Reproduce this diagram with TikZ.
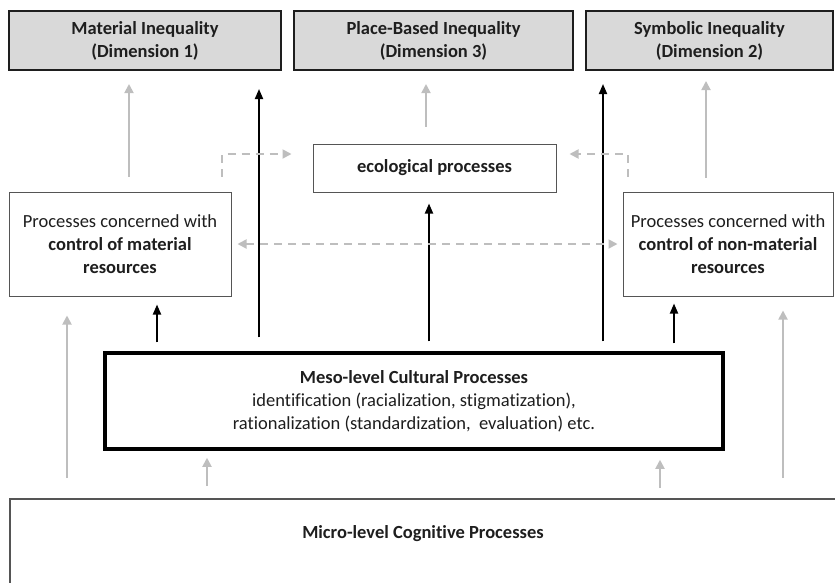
\documentclass[tikz,border=0pt]{standalone}
\usepackage{fontspec}
\setmainfont{Carlito}[Ligatures={NoCommon}]
\usetikzlibrary{arrows.meta,calc}
\definecolor{txt}{HTML}{1E1E1E}
\definecolor{lgray}{HTML}{BEBEBE}
\definecolor{boxfill}{HTML}{D9D9D9}
\definecolor{bord}{HTML}{555555}
\begin{document}
\begin{tikzpicture}[x=1pt,y=-1pt,
  every node/.style={text=txt,font=\fontsize{18.5}{23}\selectfont,align=center,inner sep=0pt},
  topbox/.style={draw=txt,line width=2pt,fill=boxfill,minimum height=59pt},
  thinbox/.style={draw=bord,line width=1pt,fill=white},
  garr/.style={draw=lgray,line width=1.8pt,-{Triangle[length=9pt,width=9pt]}},
  barr/.style={draw=black,line width=1.8pt,-{Triangle[length=10pt,width=8pt]}},
  darr/.style={draw=lgray,line width=1.8pt,dash pattern=on 8pt off 6pt,-{Triangle[length=9pt,width=9pt]}},
  ddarr/.style={draw=lgray,line width=1.8pt,dash pattern=on 8pt off 6pt,{Triangle[length=9pt,width=9pt]}-{Triangle[length=9pt,width=9pt]}}]
\useasboundingbox (0,0) rectangle (835,582);
\clip (0,0) rectangle (835,582);
% top boxes
\node[topbox,minimum width=272pt] (mat) at (145,40.5) {\textbf{Material Inequality}\\\textbf{(Dimension 1)}};
\node[topbox,minimum width=279pt] (place) at (433.5,40.5) {\textbf{Place-Based Inequality}\\\textbf{(Dimension 3)}};
\node[topbox,minimum width=247pt] (sym) at (709.5,40.5) {\textbf{Symbolic Inequality}\\\textbf{(Dimension 2)}};
% middle boxes
\node[thinbox,minimum width=243pt,minimum height=48pt] (eco) at (434.5,168) {\textbf{ecological processes}};
\node[thinbox,minimum width=222pt,minimum height=104pt] (lbox) at (120,244) {Processes concerned with\\\textbf{control of material}\\\textbf{resources}};
\node[thinbox,minimum width=210pt,minimum height=104pt] (rbox) at (728,244) {Processes concerned with\\\textbf{control of non-material}\\\textbf{resources}};
% meso
\node[draw=black,line width=3.5pt,fill=white,minimum width=618pt,minimum height=96pt] (meso) at (414,401) {\textbf{Meso-level Cultural Processes}\\identification (racialization, stigmatization),\\rationalization (standardization,\ \ evaluation) etc.};
% micro
\node[draw=bord,line width=1.5pt,fill=white,minimum width=840pt,minimum height=100pt,anchor=north west] (micro) at (9,498) {};
\node (microtxt) at (423,534) {\textbf{Micro-level Cognitive Processes}};
% column coordinates
\coordinate (c1) at (129,0);
\coordinate (c2) at (259,0);
\coordinate (c3) at (426,0);
\coordinate (c4) at (603,0);
\coordinate (c5) at (706,0);
\coordinate (c6) at (157,0);
\coordinate (c7) at (429,0);
\coordinate (c8) at (674,0);
\coordinate (c9) at (67,0);
\coordinate (c10) at (783,0);
\coordinate (c11) at (207,0);
\coordinate (c12) at (660,0);
\coordinate (dl) at (222,154);
\coordinate (dr) at (628,154);
% gray upward arrows
\draw[garr,shorten <=15pt,shorten >=13pt] (lbox.north -| c1) -- (mat.south -| c1);
\draw[garr,shorten <=17pt,shorten >=13pt] (eco.north -| c3) -- (place.south -| c3);
\draw[garr,shorten <=14pt,shorten >=10pt] (rbox.north -| c5) -- (sym.south -| c5);
\draw[garr,shorten <=20pt,shorten >=19pt] (micro.north -| c9) -- (lbox.south -| c9);
\draw[garr,shorten <=20pt,shorten >=14pt] (micro.north -| c10) -- (rbox.south -| c10);
\draw[garr,shorten <=12pt,shorten >=7pt] (micro.north -| c11) -- (meso.south -| c11);
\draw[garr,shorten <=10pt,shorten >=9pt] (micro.north -| c12) -- (meso.south -| c12);
% black arrows
\draw[barr,shorten <=14pt,shorten >=18pt] (meso.north -| c2) -- (mat.south -| c2);
\draw[barr,shorten <=10pt,shorten >=13pt] (meso.north -| c4) -- (sym.south -| c4);
\draw[barr,shorten <=9pt,shorten >=8pt] (meso.north -| c6) -- (lbox.south -| c6);
\draw[barr,shorten <=10pt,shorten >=11pt] (meso.north -| c7) -- (eco.south -| c7);
\draw[barr,shorten <=8pt,shorten >=7pt] (meso.north -| c8) -- (rbox.south -| c8);
% dashed arrows
\draw[darr,shorten <=15pt,shorten >=21pt] (lbox.north -| dl) -- (dl) -- (eco.west |- dl);
\draw[darr,shorten <=15pt,shorten >=13pt] (rbox.north -| dr) -- (dr) -- (eco.east |- dr);
\draw[ddarr,shorten <=6pt,shorten >=5pt] (lbox.east) -- (rbox.west);
\end{tikzpicture}
\end{document}
